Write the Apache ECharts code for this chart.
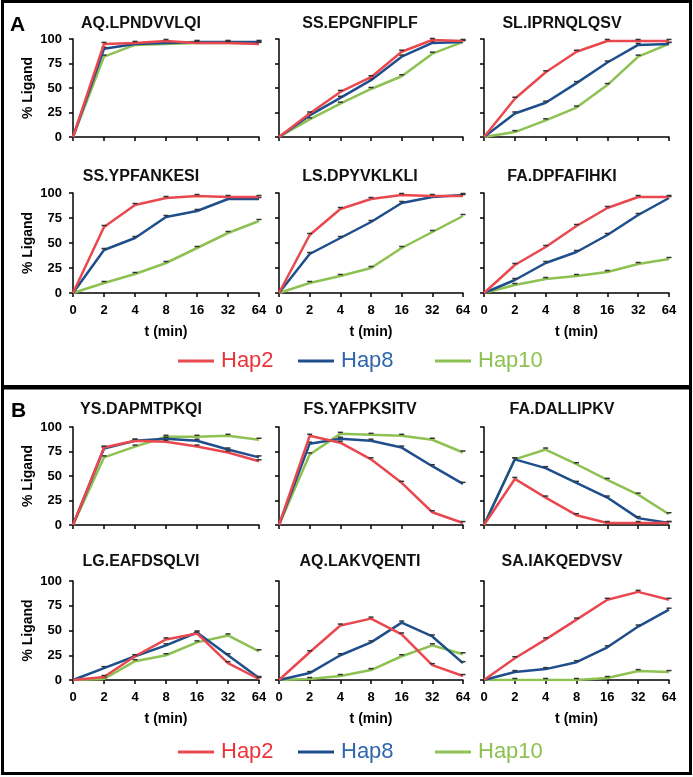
<!DOCTYPE html>
<html><head><meta charset="utf-8">
<script src="https://cdn.jsdelivr.net/npm/echarts/dist/echarts.min.js"></script>
<style>html,body{margin:0;padding:0;background:#fff}#c{width:693px;height:777px}</style>
</head><body><div id="c"></div>
<script>
const times = ['0','2','4','8','16','32','64'];
const seriesNames = ['Hap2','Hap8','Hap10'];

// Panel A
const aq_lpndvvlqi_hap2  = [0, 95, 96, 98, 96, 96, 95];
const aq_lpndvvlqi_hap8  = [0, 90, 95, 96, 97, 97, 97];
const aq_lpndvvlqi_hap10 = [0, 82, 94, 95, 96, 96, 96];

const ss_epgnfiplf_hap2  = [0, 24, 46, 61, 87, 99, 98];
const ss_epgnfiplf_hap8  = [0, 22, 40, 58, 82, 96, 97];
const ss_epgnfiplf_hap10 = [0, 18, 34, 49, 62, 85, 97];

const sl_iprnqlqsv_hap2  = [0, 39, 66, 87, 98, 98, 98];
const sl_iprnqlqsv_hap8  = [0, 24, 35, 55, 76, 94, 95];
const sl_iprnqlqsv_hap10 = [0, 5, 17, 30, 53, 82, 95];

const ss_ypfankesi_hap2  = [0, 66, 88, 95, 97, 96, 96];
const ss_ypfankesi_hap8  = [0, 43, 55, 76, 82, 94, 94];
const ss_ypfankesi_hap10 = [0, 10, 19, 30, 45, 60, 72];

const ls_dpyvklkli_hap2  = [0, 58, 84, 94, 98, 97, 97];
const ls_dpyvklkli_hap8  = [0, 39, 55, 71, 90, 96, 98];
const ls_dpyvklkli_hap10 = [0, 10, 17, 25, 45, 61, 77];

const fa_dpfafihki_hap2  = [0, 28, 46, 67, 85, 96, 96];
const fa_dpfafihki_hap8  = [0, 13, 30, 41, 58, 78, 95];
const fa_dpfafihki_hap10 = [0, 8, 14, 17, 21, 29, 34];

// Panel B
const ys_dapmtpkqi_hap2  = [0, 79, 86, 85, 80, 74, 65];
const ys_dapmtpkqi_hap8  = [0, 78, 86, 88, 86, 77, 69];
const ys_dapmtpkqi_hap10 = [0, 69, 80, 90, 90, 91, 87];

const fs_yafpksitv_hap2  = [0, 91, 84, 67, 43, 13, 2];
const fs_yafpksitv_hap8  = [0, 83, 88, 86, 79, 60, 42];
const fs_yafpksitv_hap10 = [0, 72, 93, 92, 91, 87, 74];

const fa_dallipkv_hap2  = [0, 47, 28, 10, 2, 2, 2];
const fa_dallipkv_hap8  = [0, 67, 58, 43, 28, 7, 2];
const fa_dallipkv_hap10 = [0, 67, 77, 62, 46, 31, 11];

const lg_eafdsqlvi_hap2  = [0, 3, 24, 41, 47, 17, 1];
const lg_eafdsqlvi_hap8  = [0, 12, 24, 35, 48, 25, 2];
const lg_eafdsqlvi_hap10 = [0, 1, 19, 25, 38, 45, 29];

const aq_lakvqenti_hap2  = [0, 28, 55, 62, 46, 15, 4];
const aq_lakvqenti_hap8  = [0, 7, 25, 38, 58, 44, 17];
const aq_lakvqenti_hap10 = [0, 1, 4, 10, 24, 35, 26];

const sa_iakqedvsv_hap2  = [0, 22, 41, 61, 81, 89, 81];
const sa_iakqedvsv_hap8  = [0, 8, 11, 18, 33, 54, 71];
const sa_iakqedvsv_hap10 = [0, 0, 0, 0, 2, 9, 8];

const panels = [
  {title:'AQ.LPNDVVLQI', d:[aq_lpndvvlqi_hap2, aq_lpndvvlqi_hap8, aq_lpndvvlqi_hap10]},
  {title:'SS.EPGNFIPLF', d:[ss_epgnfiplf_hap2, ss_epgnfiplf_hap8, ss_epgnfiplf_hap10]},
  {title:'SL.IPRNQLQSV', d:[sl_iprnqlqsv_hap2, sl_iprnqlqsv_hap8, sl_iprnqlqsv_hap10]},
  {title:'SS.YPFANKESI', d:[ss_ypfankesi_hap2, ss_ypfankesi_hap8, ss_ypfankesi_hap10]},
  {title:'LS.DPYVKLKLI', d:[ls_dpyvklkli_hap2, ls_dpyvklkli_hap8, ls_dpyvklkli_hap10]},
  {title:'FA.DPFAFIHKI', d:[fa_dpfafihki_hap2, fa_dpfafihki_hap8, fa_dpfafihki_hap10]},
  {title:'YS.DAPMTPKQI', d:[ys_dapmtpkqi_hap2, ys_dapmtpkqi_hap8, ys_dapmtpkqi_hap10]},
  {title:'FS.YAFPKSITV', d:[fs_yafpksitv_hap2, fs_yafpksitv_hap8, fs_yafpksitv_hap10]},
  {title:'FA.DALLIPKV',  d:[fa_dallipkv_hap2, fa_dallipkv_hap8, fa_dallipkv_hap10]},
  {title:'LG.EAFDSQLVI', d:[lg_eafdsqlvi_hap2, lg_eafdsqlvi_hap8, lg_eafdsqlvi_hap10]},
  {title:'AQ.LAKVQENTI', d:[aq_lakvqenti_hap2, aq_lakvqenti_hap8, aq_lakvqenti_hap10]},
  {title:'SA.IAKQEDVSV', d:[sa_iakqedvsv_hap2, sa_iakqedvsv_hap8, sa_iakqedvsv_hap10]}
];

const lineColors = ['#E8484E', '#1F4E8C', '#8DC152'];
const legendTextColors = ['#E8353A', '#2F66AC', '#8DC152'];
const FONT = '"Liberation Sans", Arial, sans-serif';

const cols = [{left:73,width:186,tx:141},{left:279,width:184,tx:360},{left:484,width:185,tx:562}];
const rows = [{top:39,height:98,ty:24,bottom:false},{top:193,height:100,ty:177,bottom:true},
              {top:427,height:98,ty:410,bottom:false},{top:581,height:99,ty:562,bottom:true}];

const grid = [], xAxis = [], yAxis = [], series = [], graphic = [];
panels.forEach((p, i) => {
  const r = rows[Math.floor(i/3)], c = cols[i%3];
  grid.push({left:c.left, top:r.top, width:c.width, height:r.height, containLabel:false});
  xAxis.push({
    type:'category', gridIndex:i, data:times, boundaryGap:false,
    axisLine:{lineStyle:{color:'#000', width:1.5}},
    axisTick:{show:true, length:4, interval:0, lineStyle:{color:'#000', width:1.5}},
    axisLabel:{show:r.bottom, interval:0, color:'#000', fontWeight:'bold', fontSize:13, margin:11, fontFamily:FONT},
    name: r.bottom ? 't (min)' : '', nameLocation:'middle', nameGap:32,
    nameTextStyle:{color:'#000', fontWeight:'bold', fontSize:14, fontFamily:FONT}
  });
  yAxis.push({
    type:'value', gridIndex:i, min:0, max:100, interval:25,
    axisLine:{show:true, lineStyle:{color:'#000', width:1.5}},
    axisTick:{show:true, length:4, lineStyle:{color:'#000', width:1.5}},
    splitLine:{show:false},
    axisLabel:{show:i%3===0, color:'#000', fontWeight:'bold', fontSize:13, margin:11, fontFamily:FONT},
    name: i%3===0 ? '% Ligand' : '', nameLocation:'middle', nameGap:38, nameRotate:90,
    nameTextStyle:{color:'#000', fontWeight:'bold', fontSize:14, fontFamily:FONT}
  });
  [2,1,0].forEach(k => {
    series.push({
      type:'line', name:seriesNames[k], xAxisIndex:i, yAxisIndex:i,
      data:p.d[k].map((v,j)=> j===0 ? {value:v, symbol:'none'} : v),
      symbol:'rect', symbolSize:[5,1.5], symbolOffset:[0,-1.5],
      itemStyle:{color:'#333'},
      lineStyle:{color:lineColors[k], width:2.5},
      z: 2 + (2-k), animation:false, silent:true, emphasis:{disabled:true}
    });
  });
  graphic.push({type:'text', x:c.tx, y:r.ty, silent:true,
    style:{text:p.title, fill:'#111', font:'bold 16px '+FONT, textAlign:'center', textVerticalAlign:'middle', verticalAlign:'middle'}});
});

graphic.push({type:'rect', shape:{x:2.5, y:1.5, width:688, height:385}, style:{fill:'none', stroke:'#000', lineWidth:3}, silent:true});
graphic.push({type:'rect', shape:{x:2.5, y:388, width:688, height:385.5}, style:{fill:'none', stroke:'#000', lineWidth:3}, silent:true});
graphic.push({type:'text', x:10, y:25, style:{text:'A', fill:'#000', font:'bold 21px '+FONT, textVerticalAlign:'middle', verticalAlign:'middle'}, silent:true});
graphic.push({type:'text', x:11, y:411, style:{text:'B', fill:'#000', font:'bold 21px '+FONT, textVerticalAlign:'middle', verticalAlign:'middle'}, silent:true});

const legendX = [[173,218],[293,336],[430,462]];
const legend = [];
[345, 736].forEach(top => {
  seriesNames.forEach((n,k) => {
    legend.push({
      left: legendX[k][0], top: top, icon:'rect', itemWidth: 36, itemHeight: 3, itemGap: 0,
      selectedMode:false,
      textStyle:{fontSize:22, fontFamily:FONT, color:legendTextColors[k], padding:[0,0,0,2]},
      data:[{name:n, itemStyle:{color:lineColors[k]}, textStyle:{color:legendTextColors[k]}}]
    });
  });
});

const chart = echarts.init(document.getElementById('c'), null, {renderer:'canvas'});
chart.setOption({backgroundColor:'#fff', animation:false, grid, xAxis, yAxis, series, legend, graphic});
</script>
</body></html>
